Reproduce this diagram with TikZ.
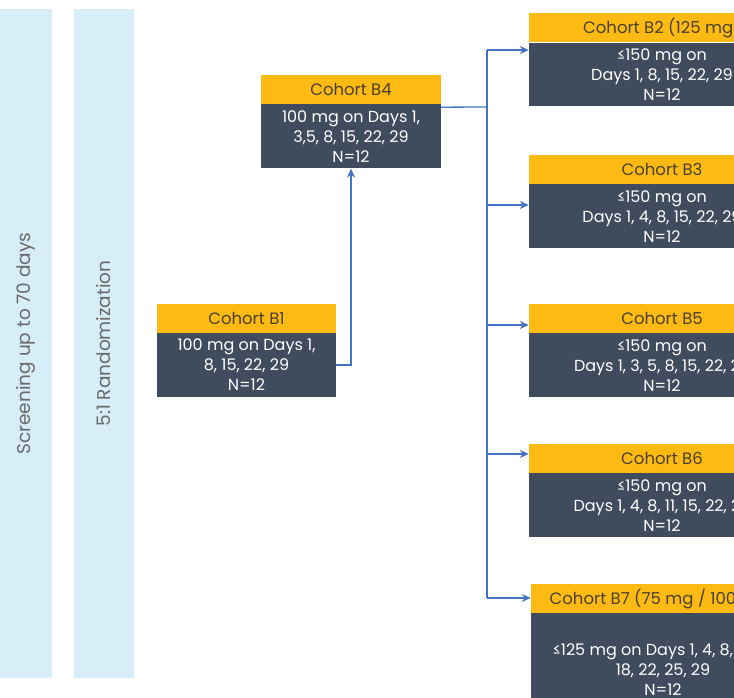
\documentclass[tikz,border=0pt]{standalone}
\usepackage{fontspec}
\setmainfont{Poppins}
\usetikzlibrary{arrows.meta,positioning}
\definecolor{headcolor}{HTML}{FDBA12}
\definecolor{bodycolor}{HTML}{404B5E}
\definecolor{linkcolor}{HTML}{4472C4}
\definecolor{pillarcolor}{HTML}{D7EEF8}
\definecolor{pillartext}{HTML}{6A6A6A}
\definecolor{headtext}{HTML}{4A4030}
\tikzset{
	pillar/.style={
		rectangle,
		fill=pillarcolor,
		text=pillartext,
		rotate=90,
		minimum width=669pt,
		font=\fontsize{18.5}{20}\selectfont
	},
	cohort/.style={
		rectangle,
		fill=headcolor,
		text=headtext,
		inner sep=0pt,
		minimum height=29pt,
		font=\fontsize{16.5}{18}\selectfont
	},
	dose/.style={
		rectangle,
		fill=bodycolor,
		text=white,
		inner sep=0pt,
		minimum height=64pt,
		align=center,
		font=\fontsize{16}{20}\selectfont
	},
	link/.style={
		draw=linkcolor,
		line width=1.3pt
	},
	arrow/.style={
		link,
		-{Stealth[length=9pt,width=8pt]}
	},
}
\begin{document}
\begin{tikzpicture}[x=1pt,y=-1pt]
		\useasboundingbox (0,0) rectangle (734,698);
		\clip (0,0) rectangle (734,698);
		% phases
		\node (screening) [pillar, minimum height=52pt] at (26,343.5) {Screening up to 70 days};
		\node (random) [pillar, minimum height=60pt] at (104,343.5) {5:1 Randomization};
		% part B cohorts
		\node (b4head) [cohort, minimum width=180pt] at (351,89.5) {Cohort B4};
		\node (b4body) [dose, minimum width=180pt, below=0pt of b4head] {100 mg on Days 1,\\3,5, 8, 15, 22, 29\\N=12};
		\node (b1head) [cohort, minimum width=179pt] at (246.5,318) {Cohort B1};
		\node (b1body) [dose, minimum width=179pt, below=0pt of b1head] {100 mg on Days 1,\\8, 15, 22, 29\\N=12};
		\node (b2head) [cohort, minimum width=266pt] at (662,28) {Cohort B2 (125 mg)};
		\node (b2body) [dose, minimum width=266pt, minimum height=63pt, below=0pt of b2head] {≤150 mg on\\Days 1, 8, 15, 22, 29\\N=12};
		\node (b3head) [cohort, minimum width=266pt] at (662,169.5) {Cohort B3};
		\node (b3body) [dose, minimum width=266pt, below=0pt of b3head] {≤150 mg on\\Days 1, 4, 8, 15, 22, 29\\N=12};
		\node (b5head) [cohort, minimum width=266pt] at (662,318.5) {Cohort B5};
		\node (b5body) [dose, minimum width=266pt, below=0pt of b5head] {≤150 mg on\\Days 1, 3, 5, 8, 15, 22, 29\\N=12};
		\node (b6head) [cohort, minimum width=266pt] at (662,458.5) {Cohort B6};
		\node (b6body) [dose, minimum width=266pt, below=0pt of b6head] {≤150 mg on\\Days 1, 4, 8, 11, 15, 22, 29\\N=12};
		\node (b7head) [cohort, minimum width=264pt] at (663,598.5) {Cohort B7 (75 mg / 100 mg)};
		\node (b7body) [dose, minimum width=264pt, minimum height=112pt, below=0pt of b7head] {≤125 mg on Days 1, 4, 8, 11, 15,\\18, 22,  25, 29\\N=12};
		% connectors
		\coordinate (fork) at (487,107);
		\coordinate (j2) at (487,50);
		\coordinate (j3) at (487,205);
		\coordinate (j5) at (487,325);
		\coordinate (j6) at (487,454);
		\coordinate (j7) at (487,598);
		\draw [arrow] (b1body.east) -| (b4body.south);
		\draw [link] ([yshift=-3pt]b4body.north east) -- (fork);
		\draw [link] (j2) -- (j7);
		\draw [arrow] (j2) -- (j2 -| b2body.west);
		\draw [arrow] (j3) -- (j3 -| b3body.west);
		\draw [arrow] (j5) -- (j5 -| b5head.west);
		\draw [arrow] (j6) -- (j6 -| b6head.west);
		\draw [arrow] (j7) -- (j7 -| b7head.west);
		\end{tikzpicture}
\end{document}
